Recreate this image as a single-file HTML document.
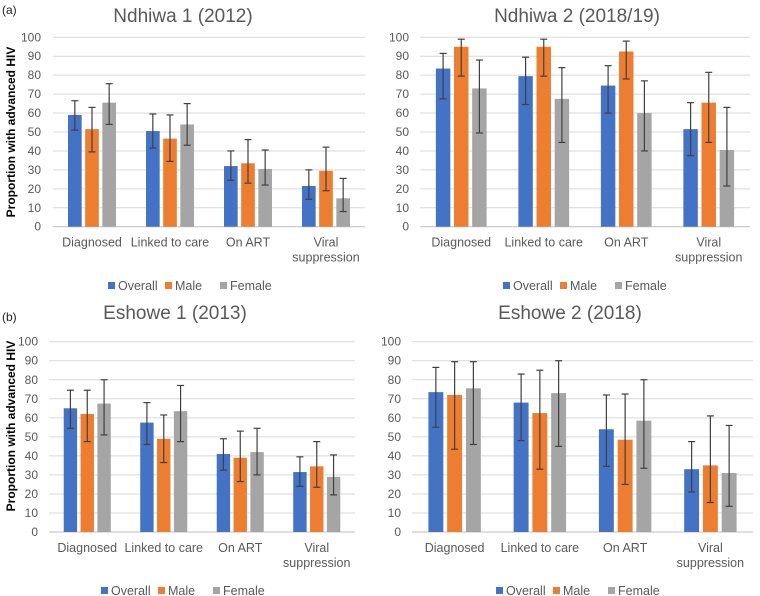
<!DOCTYPE html>
<html><head><meta charset="utf-8"><style>
body{margin:0;background:#fff;}
svg{display:block;font-family:"Liberation Sans",sans-serif;}
</style></head><body>
<svg id="c" width="760" height="596"></svg>
<script>
const categories=[["Diagnosed"],["Linked to care"],["On ART"],["Viral","suppression"]];
const seriesNames=["Overall","Male","Female"];
const seriesColors=["#4472C4","#ED7D31","#A5A5A5"];
const yTicks=[0,10,20,30,40,50,60,70,80,90,100];
const titles=["Ndhiwa 1 (2012)","Ndhiwa 2 (2018/19)","Eshowe 1 (2013)","Eshowe 2 (2018)"];
const ndhiwa1Values=[[59,50.5,32,21.5],[51.5,46.5,33.5,29.5],[65.5,54,30.5,15]];
const ndhiwa1Low=[[51,41.5,24.5,14.5],[39.5,34.5,23,19],[54,43,22,8]];
const ndhiwa1High=[[66.5,59.5,40,30],[63,59,46,42],[75.5,65,40.5,25.5]];
const ndhiwa2Values=[[83.5,79.5,74.5,51.5],[95,95,92.5,65.5],[73,67.5,60,40.5]];
const ndhiwa2Low=[[67.5,64.5,60,37.5],[79.5,79.5,78,44.5],[49.5,44.5,40,21.5]];
const ndhiwa2High=[[91.5,89.5,85,65.5],[99,99,98,81.5],[88,84,77,63]];
const eshowe1Values=[[65,57.5,41,31.5],[62,49,39,34.5],[67.5,63.5,42,29]];
const eshowe1Low=[[54.5,46,32.5,24],[47.5,36.5,26.5,23.5],[51,47.5,30,19.5]];
const eshowe1High=[[74.5,68,49,39.5],[74.5,61.5,53,47.5],[80,77,54.5,40.5]];
const eshowe2Values=[[73.5,68,54,33],[72,62.5,48.5,35],[75.5,73,58.5,31]];
const eshowe2Low=[[55,48,34.5,21],[43.5,33,25,15.5],[46,45,33.5,13.5]];
const eshowe2High=[[86.5,83,72,47.5],[89.5,85,72.5,61],[89.5,90,80,56]];

const panels=[
 {v:ndhiwa1Values,lo:ndhiwa1Low,hi:ndhiwa1High,x0:53,x1:365,y0:226.7,y1:37.3,tickX:41,titleX:183,titleY:22,legY:286,legX:108,label:"(a)",labelY:14,axisTitleY:132},
 {v:ndhiwa2Values,lo:ndhiwa2Low,hi:ndhiwa2High,x0:420,x1:750,y0:226.7,y1:37.3,tickX:409,titleX:577,titleY:22,legY:286,legX:503},
 {v:eshowe1Values,lo:eshowe1Low,hi:eshowe1High,x0:49,x1:355,y0:532,y1:341.7,tickX:38,titleX:175,titleY:319,legY:591,legX:101,label:"(b)",labelY:321,axisTitleY:426},
 {v:eshowe2Values,lo:eshowe2Low,hi:eshowe2High,x0:412,x1:753,y0:532,y1:341.7,tickX:401,titleX:570,titleY:319,legY:591,legX:496}
];
const NS="http://www.w3.org/2000/svg";
const svg=document.getElementById('c');
function mk(tag,attrs,parent,text){const e=document.createElementNS(NS,tag);for(const k in attrs)e.setAttribute(k,attrs[k]);if(text!==undefined)e.textContent=text;(parent||svg).appendChild(e);return e;}
panels.forEach((p,pi)=>{
 const g=mk('g',{});
 
 
 const ys=v=>p.y0+(p.y1-p.y0)*v/100;
 const t=mk('text',{x:p.titleX,y:p.titleY,'text-anchor':'middle','font-size':19,fill:'#595959'},g,titles[pi]);
 
 
 if(p.label){const l=mk('text',{x:2,y:p.labelY,'font-size':12,fill:'#222'},g,p.label);
  
  
  const at=mk('text',{x:0,y:0,transform:`translate(15,${p.axisTitleY}) rotate(-90)`,'text-anchor':'middle','font-size':12,'font-weight':'bold',fill:'#000'},g,'Proportion with advanced HIV');
  
  }
 yTicks.forEach(tv=>{
  const y=ys(tv);
  const gl=mk('line',{x1:p.x0,x2:p.x1,y1:y,y2:y,stroke:tv===0?'#bfbfbf':'#d9d9d9','stroke-width':1},g);
  
  
  const tl=mk('text',{x:p.tickX,y:y+4,'text-anchor':'end','font-size':12,fill:'#595959'},g,tv);
  
  
 });
 const gw=(p.x1-p.x0)/categories.length, bw=gw*0.175, gap=gw*0.045;
 categories.forEach((cat,ci)=>{
  const cx=p.x0+gw*(ci+0.5);
  cat.forEach((line,li)=>{const ct=mk('text',{x:cx,y:p.y0+20+li*15,'text-anchor':'middle','font-size':12.5,fill:'#595959'},g,line);
   
   });
  seriesNames.forEach((s,si)=>{
   const bx=cx+(si-1)*(bw+gap)-bw/2;
   const val=p.v[si][ci];
   const r=mk('rect',{x:bx,y:ys(val),width:bw,height:p.y0-ys(val),fill:seriesColors[si]},g);
   
   
   const ex=bx+bw/2, ylo=ys(p.lo[si][ci]), yhi=ys(p.hi[si][ci]);
   const eg=mk('g',{stroke:'#404040','stroke-width':1.2},g);
   
   
   mk('line',{x1:ex,x2:ex,y1:ylo,y2:yhi},eg);
   mk('line',{x1:ex-3.5,x2:ex+3.5,y1:ylo,y2:ylo},eg);
   mk('line',{x1:ex-3.5,x2:ex+3.5,y1:yhi,y2:yhi},eg);
  });
 });
 const lg=mk('g',{},g);
 
 
 const offs=[0,57,112];
 seriesNames.forEach((s,si)=>{
  const x=p.legX+offs[si];
  const e=mk('g',{},lg);
  
  
  mk('rect',{x:x,y:p.legY-4,width:7,height:7,fill:seriesColors[si]},e);
  mk('text',{x:x+10,y:p.legY+4,'font-size':12.5,fill:'#595959'},e,s);
 });
});
</script>
</body></html>
